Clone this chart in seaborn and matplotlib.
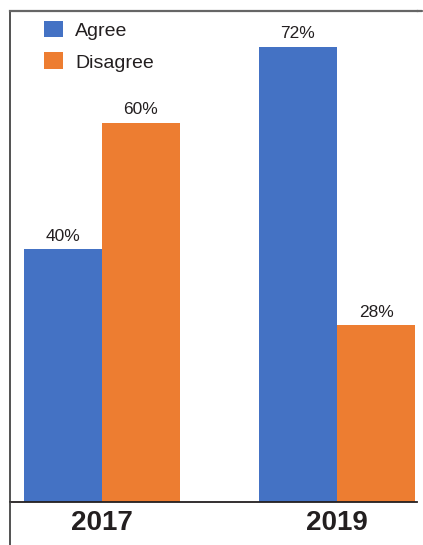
import matplotlib
matplotlib.use("Agg")
import matplotlib.pyplot as plt
import matplotlib.lines as mlines
import seaborn as sns
import pandas as pd

years = ["2017", "2019"]
responses = ["Agree", "Disagree"]
agree = [40, 72]
disagree = [60, 28]
colors = ["#4472C4", "#ED7D31"]

df = pd.DataFrame({
    "year": years * 2,
    "response": ["Agree"] * 2 + ["Disagree"] * 2,
    "value": agree + disagree,
})

sns.set_theme(style="white")
plt.rcParams["font.family"] = ["Liberation Sans", "DejaVu Sans"]

W, H = 423, 545
fig = plt.figure(figsize=(W / 100, H / 100), dpi=100)
ax = fig.add_axes([10 / W, (H - 502) / H, (417 - 10) / W, (502 - 11) / H])

sns.barplot(data=df, x="year", y="value", hue="response", order=years,
            hue_order=responses, palette=colors, width=0.665, ax=ax,
            saturation=1, legend=True, linewidth=0)

ax.set_xlim(-0.39, 1.34)
ax.set_ylim(0, 77.7)
ax.set_xlabel("")
ax.set_ylabel("")
ax.set_yticks([])
ax.tick_params(axis="x", length=0, pad=6)
for lab in ax.get_xticklabels():
    lab.set_fontsize(20)
    lab.set_fontweight("bold")
    lab.set_color("#231f20")

for c in ax.containers:
    ax.bar_label(c, labels=[f"{v:.0f}%" for v in c.datavalues], padding=4,
                 fontsize=12.5, color="#231f20")

ax.spines["right"].set_visible(False)
ax.spines["bottom"].set_color("#231f20")
ax.spines["bottom"].set_linewidth(1.3)
ax.spines["left"].set_color("#444444")
ax.spines["left"].set_linewidth(1.3)
ax.spines["top"].set_color("#666666")
ax.spines["top"].set_linewidth(1.6)

# frame extensions
fig.add_artist(mlines.Line2D([10 / W, 10 / W], [0, (H - 502) / H],
                             color="#444444", lw=1.3, transform=fig.transFigure))
fig.add_artist(mlines.Line2D([417 / W, 422 / W], [(H - 11) / H, (H - 11) / H],
                             color="#666666", lw=1.6, transform=fig.transFigure))

leg = ax.legend(loc="upper left", bbox_to_anchor=(0.06, 1.0), frameon=False,
                fontsize=14, handlelength=0.95, handleheight=0.95,
                handletextpad=0.65, labelspacing=0.65, borderaxespad=0.1)
for t in leg.get_texts():
    t.set_color("#231f20")

fig.savefig("out.png", dpi=100)
